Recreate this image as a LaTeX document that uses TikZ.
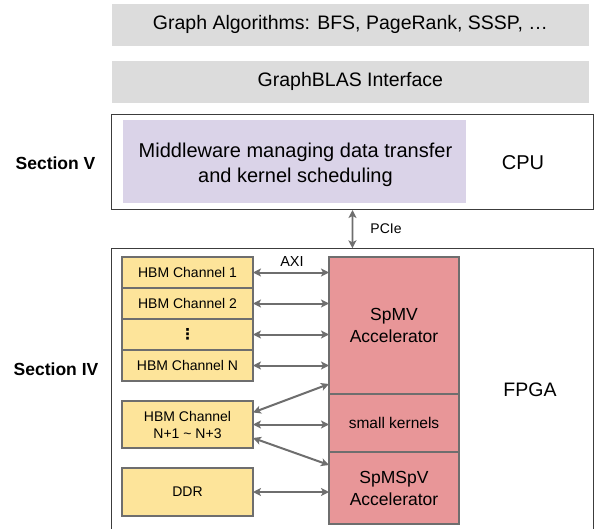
\documentclass[tikz,border=0pt]{standalone}
\usepackage{fontspec}
\setmainfont{Liberation Sans}
\newfontfamily\dejavu{DejaVu Sans}
\usetikzlibrary{arrows.meta,calc}
\definecolor{grayfill}{HTML}{DCDCDC}
\definecolor{purplefill}{HTML}{DAD3E8}
\definecolor{yellowfill}{HTML}{FDE49A}
\definecolor{redfill}{HTML}{E89698}
\definecolor{edgegray}{HTML}{6E6E6E}
\definecolor{framegray}{HTML}{3C3C3C}
\newcommand{\fsz}[2]{\fontsize{#1}{#2}\selectfont}
\begin{document}
\begin{tikzpicture}[x=1pt,y=-1pt,
  layerbox/.style={fill=grayfill,draw=none,inner sep=0pt,outer sep=0pt,font=\fsz{19.5}{24}},
  framebox/.style={draw=framegray,line width=1pt,inner sep=0pt,outer sep=0pt},
  membox/.style={fill=yellowfill,draw=edgegray,line width=1.8pt,inner sep=0pt,outer sep=0pt,minimum width=131,align=center,font=\fsz{14}{17}},
  accbox/.style={fill=redfill,draw=edgegray,line width=1.8pt,inner sep=0pt,outer sep=0pt,minimum width=130,align=center,font=\fsz{17.5}{22}},
  link/.style={draw=edgegray,line width=2pt,{Stealth[length=8pt,width=8pt,inset=2pt]}-{Stealth[length=8pt,width=8pt,inset=2pt]}},
  lbl/.style={inner sep=0pt,align=center}
]
\useasboundingbox (0,0) rectangle (596,529);

% software layers
\node[layerbox,minimum width=477.3,minimum height=41.7] (alg) at (350.4,24.9) {Graph Algorithms: BFS, PageRank, SSSP, \dots};
\node[layerbox,minimum width=477.3,minimum height=41.7] (blas) at (350.4,81.9) {GraphBLAS Interface};

% CPU
\node[framebox,minimum width=481.6,minimum height=95] (cpu) at (352.5,162.5) {};
\node[fill=purplefill,inner sep=0pt,minimum width=342.7,minimum height=83.3] (mw) at (294.7,161.7) {};
\node[lbl,font=\fsz{20}{25}] (mwt) at (295.5,164.5) {Middleware managing data transfer\\and kernel scheduling};
\node[lbl,font=\fsz{20}{25}] (cpul) at (523,163) {CPU};
\node[lbl,font=\bfseries\fsz{17.5}{22}] (secv) at (55.5,163) {Section V};

% FPGA
\node[framebox,minimum width=481.3,minimum height=300] (fpga) at (352.4,398.3) {};
\node[lbl,font=\fsz{19.5}{24}] (fpgal) at (530,390) {FPGA};
\node[lbl,font=\bfseries\fsz{17.5}{22}] (seciv) at (56,369) {Section IV};

\draw[link,line width=1.8pt] (cpu.south) -- (fpga.north);
\node[lbl,font=\fsz{14}{17}] (pcie) at (386,229) {PCIe};

% memories
\node[membox,minimum height=31] (ch1) at (187.5,272.5) {HBM Channel 1};
\node[membox,minimum height=31] (ch2) at (187.5,303.5) {HBM Channel 2};
\node[membox,minimum height=31,font=\dejavu\bfseries\fsz{15}{17}] (chd) at (187.5,334.5) {⋮};
\node[membox,minimum height=31] (chn) at (187.5,365.5) {HBM Channel N};
\node[membox,minimum height=47] (chx) at (187.5,424.5) {HBM Channel\\N+1 \textasciitilde{} N+3};
\node[membox,minimum height=48] (ddr) at (187.5,492) {DDR};

% accelerators
\node[accbox,minimum height=137] (spmv) at (394,325.5) {SpMV\\Accelerator};
\node[accbox,minimum height=58,font=\fsz{15.5}{19}] (small) at (394,423) {small kernels};
\node[accbox,minimum height=72] (spmspv) at (394,488) {SpMSpV\\Accelerator};

\node[lbl,font=\fsz{14.5}{17}] (axi) at (292,262) {AXI};

% links
\draw[link] (ch1.east) -- (ch1.east -| spmv.west);
\draw[link] (ch2.east) -- (ch2.east -| spmv.west);
\draw[link] (chd.east) -- (chd.east -| spmv.west);
\draw[link] (chn.east) -- (chn.east -| spmv.west);
\draw[link] ($(chx.east)+(0,-12)$) -- ($(spmv.south west)+(0,-10)$);
\draw[link] (chx.east) -- (chx.east -| small.west);
\draw[link] ($(chx.east)+(0,13.5)$) -- ($(spmspv.north west)+(0,13)$);
\draw[link] (ddr.east) -- (ddr.east -| spmspv.west);
\end{tikzpicture}
\end{document}
